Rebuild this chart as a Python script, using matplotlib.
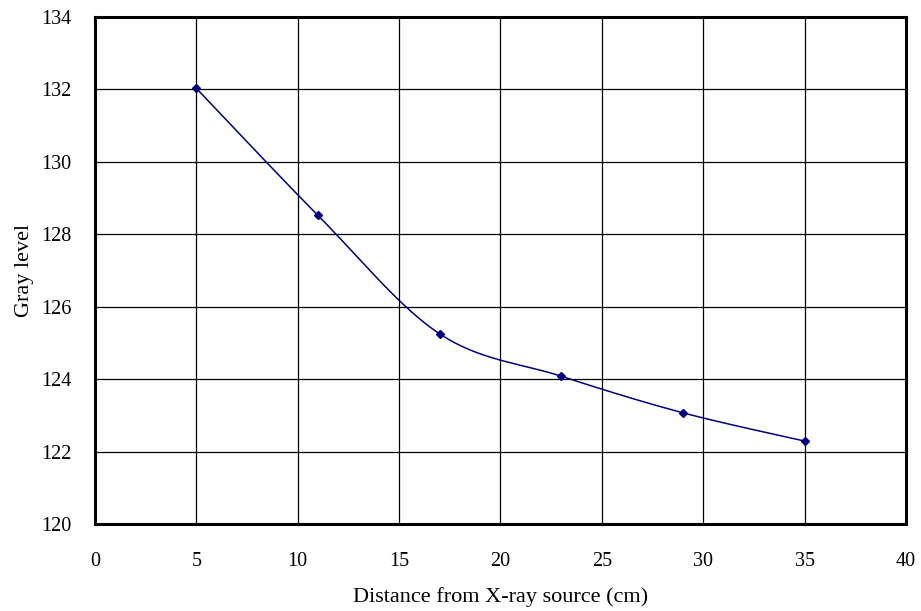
import numpy as np
import matplotlib
matplotlib.use("Agg")
from matplotlib import pyplot as plt

distance = [5, 11, 17, 23, 29, 35]
gray = [132.03, 128.52, 125.25, 124.08, 123.07, 122.29]


def smooth(xs, ys, n=40):
    # excel-like smoothed line: bezier through points, catmull-rom tangents
    xs = np.asarray(xs, float)
    ys = np.asarray(ys, float)
    px = np.concatenate([[xs[0]], xs, [xs[-1]]])
    py = np.concatenate([[ys[0]], ys, [ys[-1]]])
    outx, outy = [], []
    t = np.linspace(0, 1, n)
    for i in range(1, len(px) - 2):
        p0 = np.array([px[i], py[i]])
        p3 = np.array([px[i + 1], py[i + 1]])
        p1 = p0 + (np.array([px[i + 1], py[i + 1]]) - np.array([px[i - 1], py[i - 1]])) / 6
        p2 = p3 - (np.array([px[i + 2], py[i + 2]]) - np.array([px[i], py[i]])) / 6
        b = ((1 - t) ** 3)[:, None] * p0 + (3 * (1 - t) ** 2 * t)[:, None] * p1 \
            + (3 * (1 - t) * t ** 2)[:, None] * p2 + (t ** 3)[:, None] * p3
        outx.extend(b[:, 0])
        outy.extend(b[:, 1])
    return outx, outy


plt.rcParams['font.family'] = ['Liberation Serif', 'DejaVu Serif']

fig = plt.figure(figsize=(9.21, 6.11), dpi=100)
ax = fig.add_axes([0.1031, 0.1424, 0.8806, 0.8298])

sx, sy = smooth(distance, gray)
ax.plot(sx, sy, color='#000080', lw=1.1)
ax.plot(distance, gray, ls='none', marker='D', ms=4.5, color='#000080')

ax.set_xlim(0, 40)
ax.set_ylim(120, 134)
ax.set_xticks(range(0, 41, 5))
ax.set_yticks(range(120, 135, 2))
ax.grid(True, color='black', lw=0.9)
ax.set_axisbelow(True)
ax.tick_params(length=0, labelsize=14.5)
ax.tick_params(axis='x', pad=20)
ax.tick_params(axis='y', pad=17)
for s in ax.spines.values():
    s.set_linewidth(2.2)
    s.set_color('black')

ax.set_xlabel('Distance from X-ray source (cm)', fontsize=16, labelpad=12)
ax.set_ylabel('Gray level', fontsize=16, labelpad=5)

fig.savefig('out.png', dpi=100)
